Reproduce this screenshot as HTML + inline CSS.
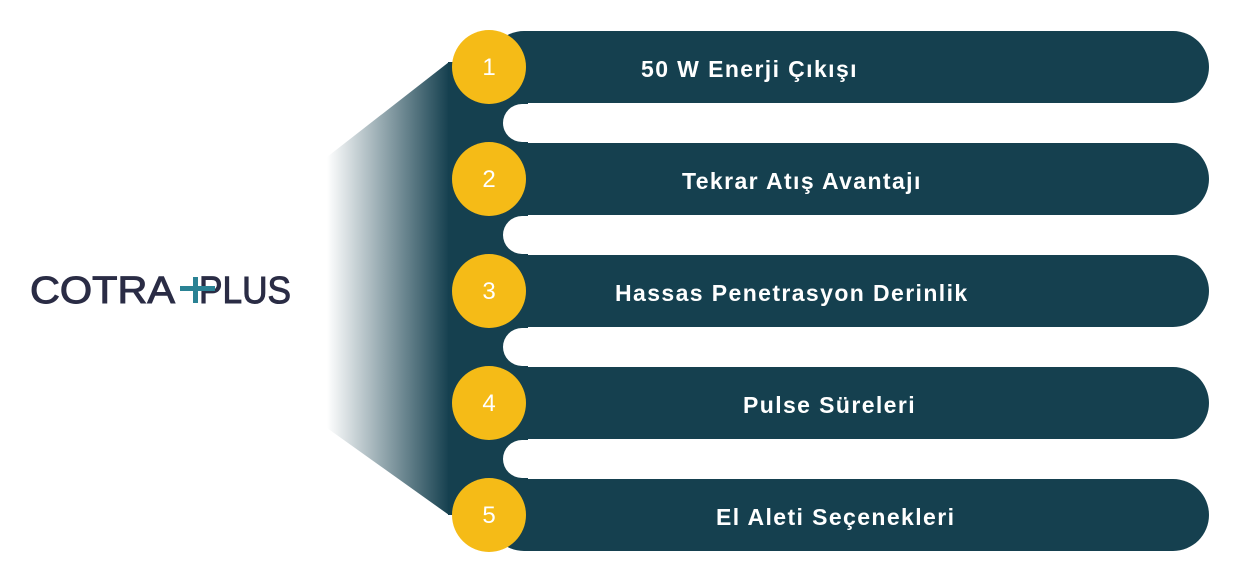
<!DOCTYPE html>
<html><head><meta charset="utf-8"><style>
body{margin:0;width:1248px;height:571px;background:#fff;overflow:hidden;position:relative;font-family:"Liberation Sans",sans-serif}
.t{position:absolute;color:#fff;font-weight:bold;font-size:23px;letter-spacing:1.4px;white-space:nowrap;line-height:24px}
.n{position:absolute;color:#fff;font-size:24px;line-height:24px;width:76px;text-align:center}
</style></head><body>
<svg width="1248" height="571" style="position:absolute;left:0;top:0">
<defs><linearGradient id="g" x1="0" x2="1" y1="0" y2="0">
<stop offset="0" stop-color="#15404f" stop-opacity="0"/><stop offset="1" stop-color="#15404f"/></linearGradient></defs>
<polygon points="327,157 449,62 449,515 327,428" fill="url(#g)"/>
<rect x="448" y="62" width="80" height="453" fill="#15404f"/>
<g fill="#15404f">
<rect x="488" y="31" width="721" height="72" rx="36"/>
<rect x="488" y="143" width="721" height="72" rx="36"/>
<rect x="488" y="255" width="721" height="72" rx="36"/>
<rect x="488" y="367" width="721" height="72" rx="36"/>
<rect x="488" y="479" width="721" height="72" rx="36"/>
</g>
<g fill="#fff">
<rect x="503" y="104" width="720" height="38" rx="19"/>
<rect x="503" y="216" width="720" height="38" rx="19"/>
<rect x="503" y="328" width="720" height="38" rx="19"/>
<rect x="503" y="440" width="720" height="38" rx="19"/>
</g>
<g fill="#f5bb17">
<circle cx="489" cy="67" r="37"/><circle cx="489" cy="179" r="37"/><circle cx="489" cy="291" r="37"/><circle cx="489" cy="403" r="37"/><circle cx="489" cy="515" r="37"/>
</g>
<text x="30" y="303" font-family="Liberation Sans" font-size="38" fill="#2a2c45" stroke="#2a2c45" stroke-width="1" textLength="145" lengthAdjust="spacingAndGlyphs">COTRA</text>
<text x="199" y="303" font-family="Liberation Sans" font-size="38" fill="#2a2c45" stroke="#2a2c45" stroke-width="1" textLength="92" lengthAdjust="spacingAndGlyphs">PLUS</text>
<rect x="180" y="286" width="35" height="5" fill="#2a8294"/><rect x="193" y="277" width="5" height="26" fill="#2a8294"/>
</svg>
<div class="n" style="left:451px;top:56px">1</div>
<div class="n" style="left:451px;top:168px">2</div>
<div class="n" style="left:451px;top:280px">3</div>
<div class="n" style="left:451px;top:392px">4</div>
<div class="n" style="left:451px;top:504px">5</div>
<div class="t" style="left:641px;top:57px">50 W Enerji Çıkışı</div>
<div class="t" style="left:682px;top:169px">Tekrar Atış Avantajı</div>
<div class="t" style="left:615px;top:281px">Hassas Penetrasyon Derinlik</div>
<div class="t" style="left:743px;top:393px">Pulse Süreleri</div>
<div class="t" style="left:716px;top:505px">El Aleti Seçenekleri</div>
</body></html>
